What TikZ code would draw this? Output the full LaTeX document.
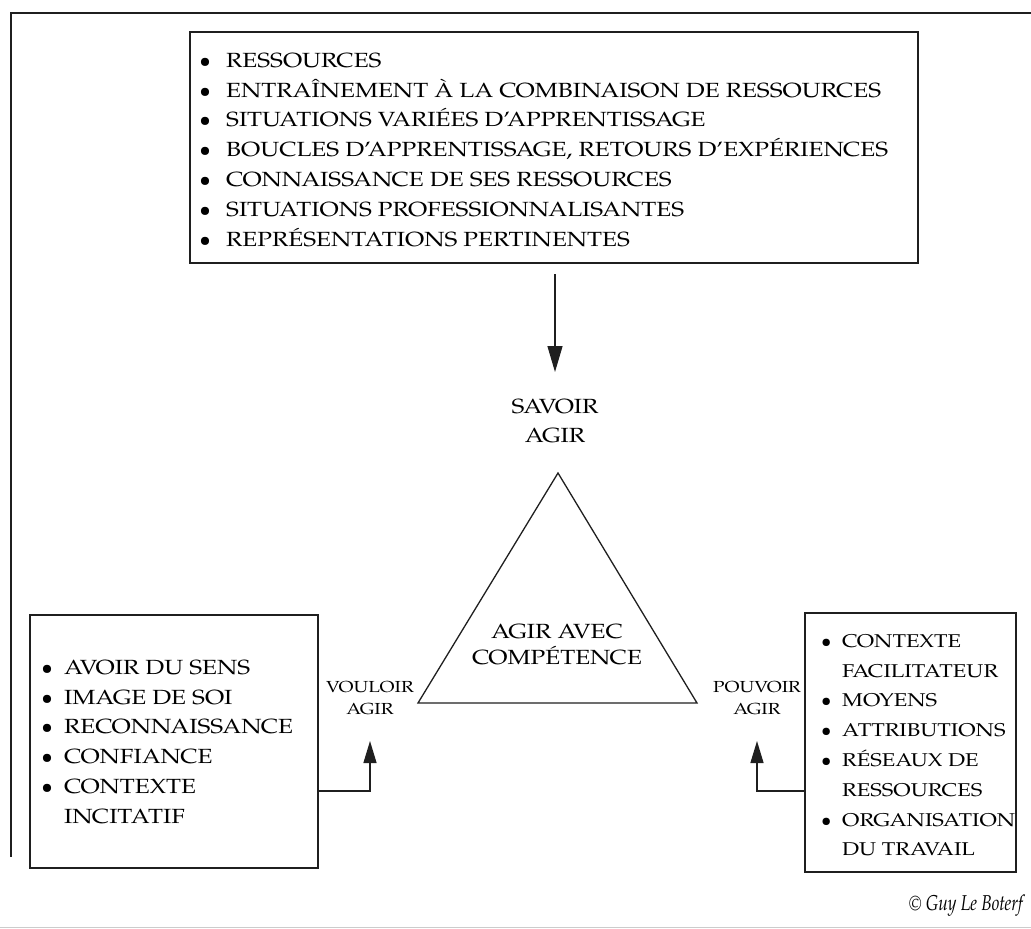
\documentclass[tikz,border=0pt]{standalone}
\usepackage{fontspec}
\setmainfont{TeX Gyre Pagella}[FakeStretch=1.19]
\newfontfamily\bulletfont{TeX Gyre Pagella}
\newfontfamily\creditfont{TeX Gyre Pagella}[FakeStretch=0.8]
\usetikzlibrary{arrows.meta}

% bullet item: bullet centred on the column start, text after \bulw
\newlength{\bulw}
\setlength{\bulw}{20pt}
\newcommand{\bitem}[1]{\makebox[\bulw][l]{\makebox[0pt]{\bulletfont\textbullet}}#1}
\newcommand{\bcont}[1]{\makebox[\bulw][l]{}#1}

\tikzset{
  ink/.style={draw=black!88, line width=1.3pt},
  framebox/.style={ink, rectangle, inner sep=0pt, outer sep=0pt, anchor=north west},
  listtext/.style={inner sep=0pt, anchor=north west, font=\fontsize{20.5}{29.8}\selectfont},
  label/.style={inner sep=0pt, anchor=north, font=\fontsize{20.5}{29.8}\selectfont},
  smalllabel/.style={inner sep=0pt, anchor=north, font=\fontsize{16}{22}\selectfont},
  arrowline/.style={ink, -{Triangle[length=22pt,width=13pt]}},
}

\begin{document}
\begin{tikzpicture}[x=1pt,y=-1pt]
  \useasboundingbox (0,0) rectangle (1031,929);

  % outer frame (top and left sides)
  \coordinate (frameTL) at (11,13);
  \coordinate (frameTR) at (1031,13);
  \coordinate (frameBL) at (11,857);
  \draw[ink] (frameTR) -- (frameTL) -- (frameBL);
  \draw[black!20, line width=0.8pt] (0,927) -- (1031,927);

  % resources box
  \node[framebox, minimum width=728pt, minimum height=231pt] (resbox) at (190,32) {};
  \node[listtext] (restext) at (205,46.2) {\setlength{\bulw}{21pt}\begin{tabular}{@{}l@{}}
    \bitem{RESSOURCES}\\
    \bitem{ENTRAÎNEMENT À LA COMBINAISON DE RESSOURCES}\\
    \bitem{SITUATIONS VARIÉES D’APPRENTISSAGE}\\
    \bitem{BOUCLES D’APPRENTISSAGE, RETOURS D’EXPÉRIENCES}\\
    \bitem{CONNAISSANCE DE SES RESSOURCES}\\
    \bitem{SITUATIONS PROFESSIONNALISANTES}\\
    \bitem{REPRÉSENTATIONS PERTINENTES}
  \end{tabular}};

  % savoir agir
  \node[label] (savoir) at (555,392) {\begin{tabular}{@{}c@{}}SAVOIR\\AGIR\end{tabular}};
  \draw[arrowline, -{Triangle[length=26pt,width=15pt]}] ([yshift=-11pt]resbox.south -| savoir.north) -- ([yshift=20pt]savoir.north);

  % triangle
  \coordinate (apex) at (558,473);
  \coordinate (baseL) at (418,703);
  \coordinate (baseR) at (697,703);
  \draw[ink, line join=miter] (apex) -- (baseR) -- (baseL) -- cycle;
  \node[inner sep=0pt, anchor=north, font=\fontsize{20.5}{26}\selectfont] (agir) at (557,620.5)
    {\begin{tabular}{@{}c@{}}AGIR AVEC\\COMPÉTENCE\end{tabular}};

  % vouloir agir
  \node[framebox, minimum width=288pt, minimum height=253pt] (leftbox) at (30,615) {};
  \node[listtext] (lefttext) at (47,653.2) {\setlength{\bulw}{17pt}\begin{tabular}{@{}l@{}}
    \bitem{AVOIR DU SENS}\\
    \bitem{IMAGE DE SOI}\\
    \bitem{RECONNAISSANCE}\\
    \bitem{CONFIANCE}\\
    \bitem{CONTEXTE}\\
    \bcont{INCITATIF}
  \end{tabular}};
  \node[smalllabel] (vouloir) at (370,676.6) {\begin{tabular}{@{}c@{}}VOULOIR\\AGIR\end{tabular}};
  \coordinate (lbend) at (370,791);
  \draw[arrowline] (leftbox.east |- lbend) -- (lbend) -- ([yshift=-20pt]vouloir.south);

  % pouvoir agir
  \node[framebox, minimum width=211pt, minimum height=259pt] (rightbox) at (805,613) {};
  \node[listtext, font=\fontsize{18.5}{29.8}\selectfont] (righttext) at (826,626.2) {\setlength{\bulw}{16pt}\begin{tabular}{@{}l@{}}
    \bitem{CONTEXTE}\\
    \bcont{FACILITATEUR}\\
    \bitem{MOYENS}\\
    \bitem{ATTRIBUTIONS}\\
    \bitem{RÉSEAUX DE}\\
    \bcont{RESSOURCES}\\
    \bitem{ORGANISATION}\\
    \bcont{DU TRAVAIL}
  \end{tabular}};
  \node[smalllabel] (pouvoir) at (757,676.6) {\begin{tabular}{@{}c@{}}POUVOIR\\AGIR\end{tabular}};
  \coordinate (rbend) at (757,791);
  \draw[arrowline] (rightbox.west |- rbend) -- (rbend) -- ([yshift=-20pt]pouvoir.south);

  % credit line
  \node[inner sep=0pt, anchor=base east, font=\creditfont\itshape\fontsize{21.5}{26}\selectfont] (credit) at (1023,910)
    {© Guy Le Boterf};
\end{tikzpicture}
\end{document}
